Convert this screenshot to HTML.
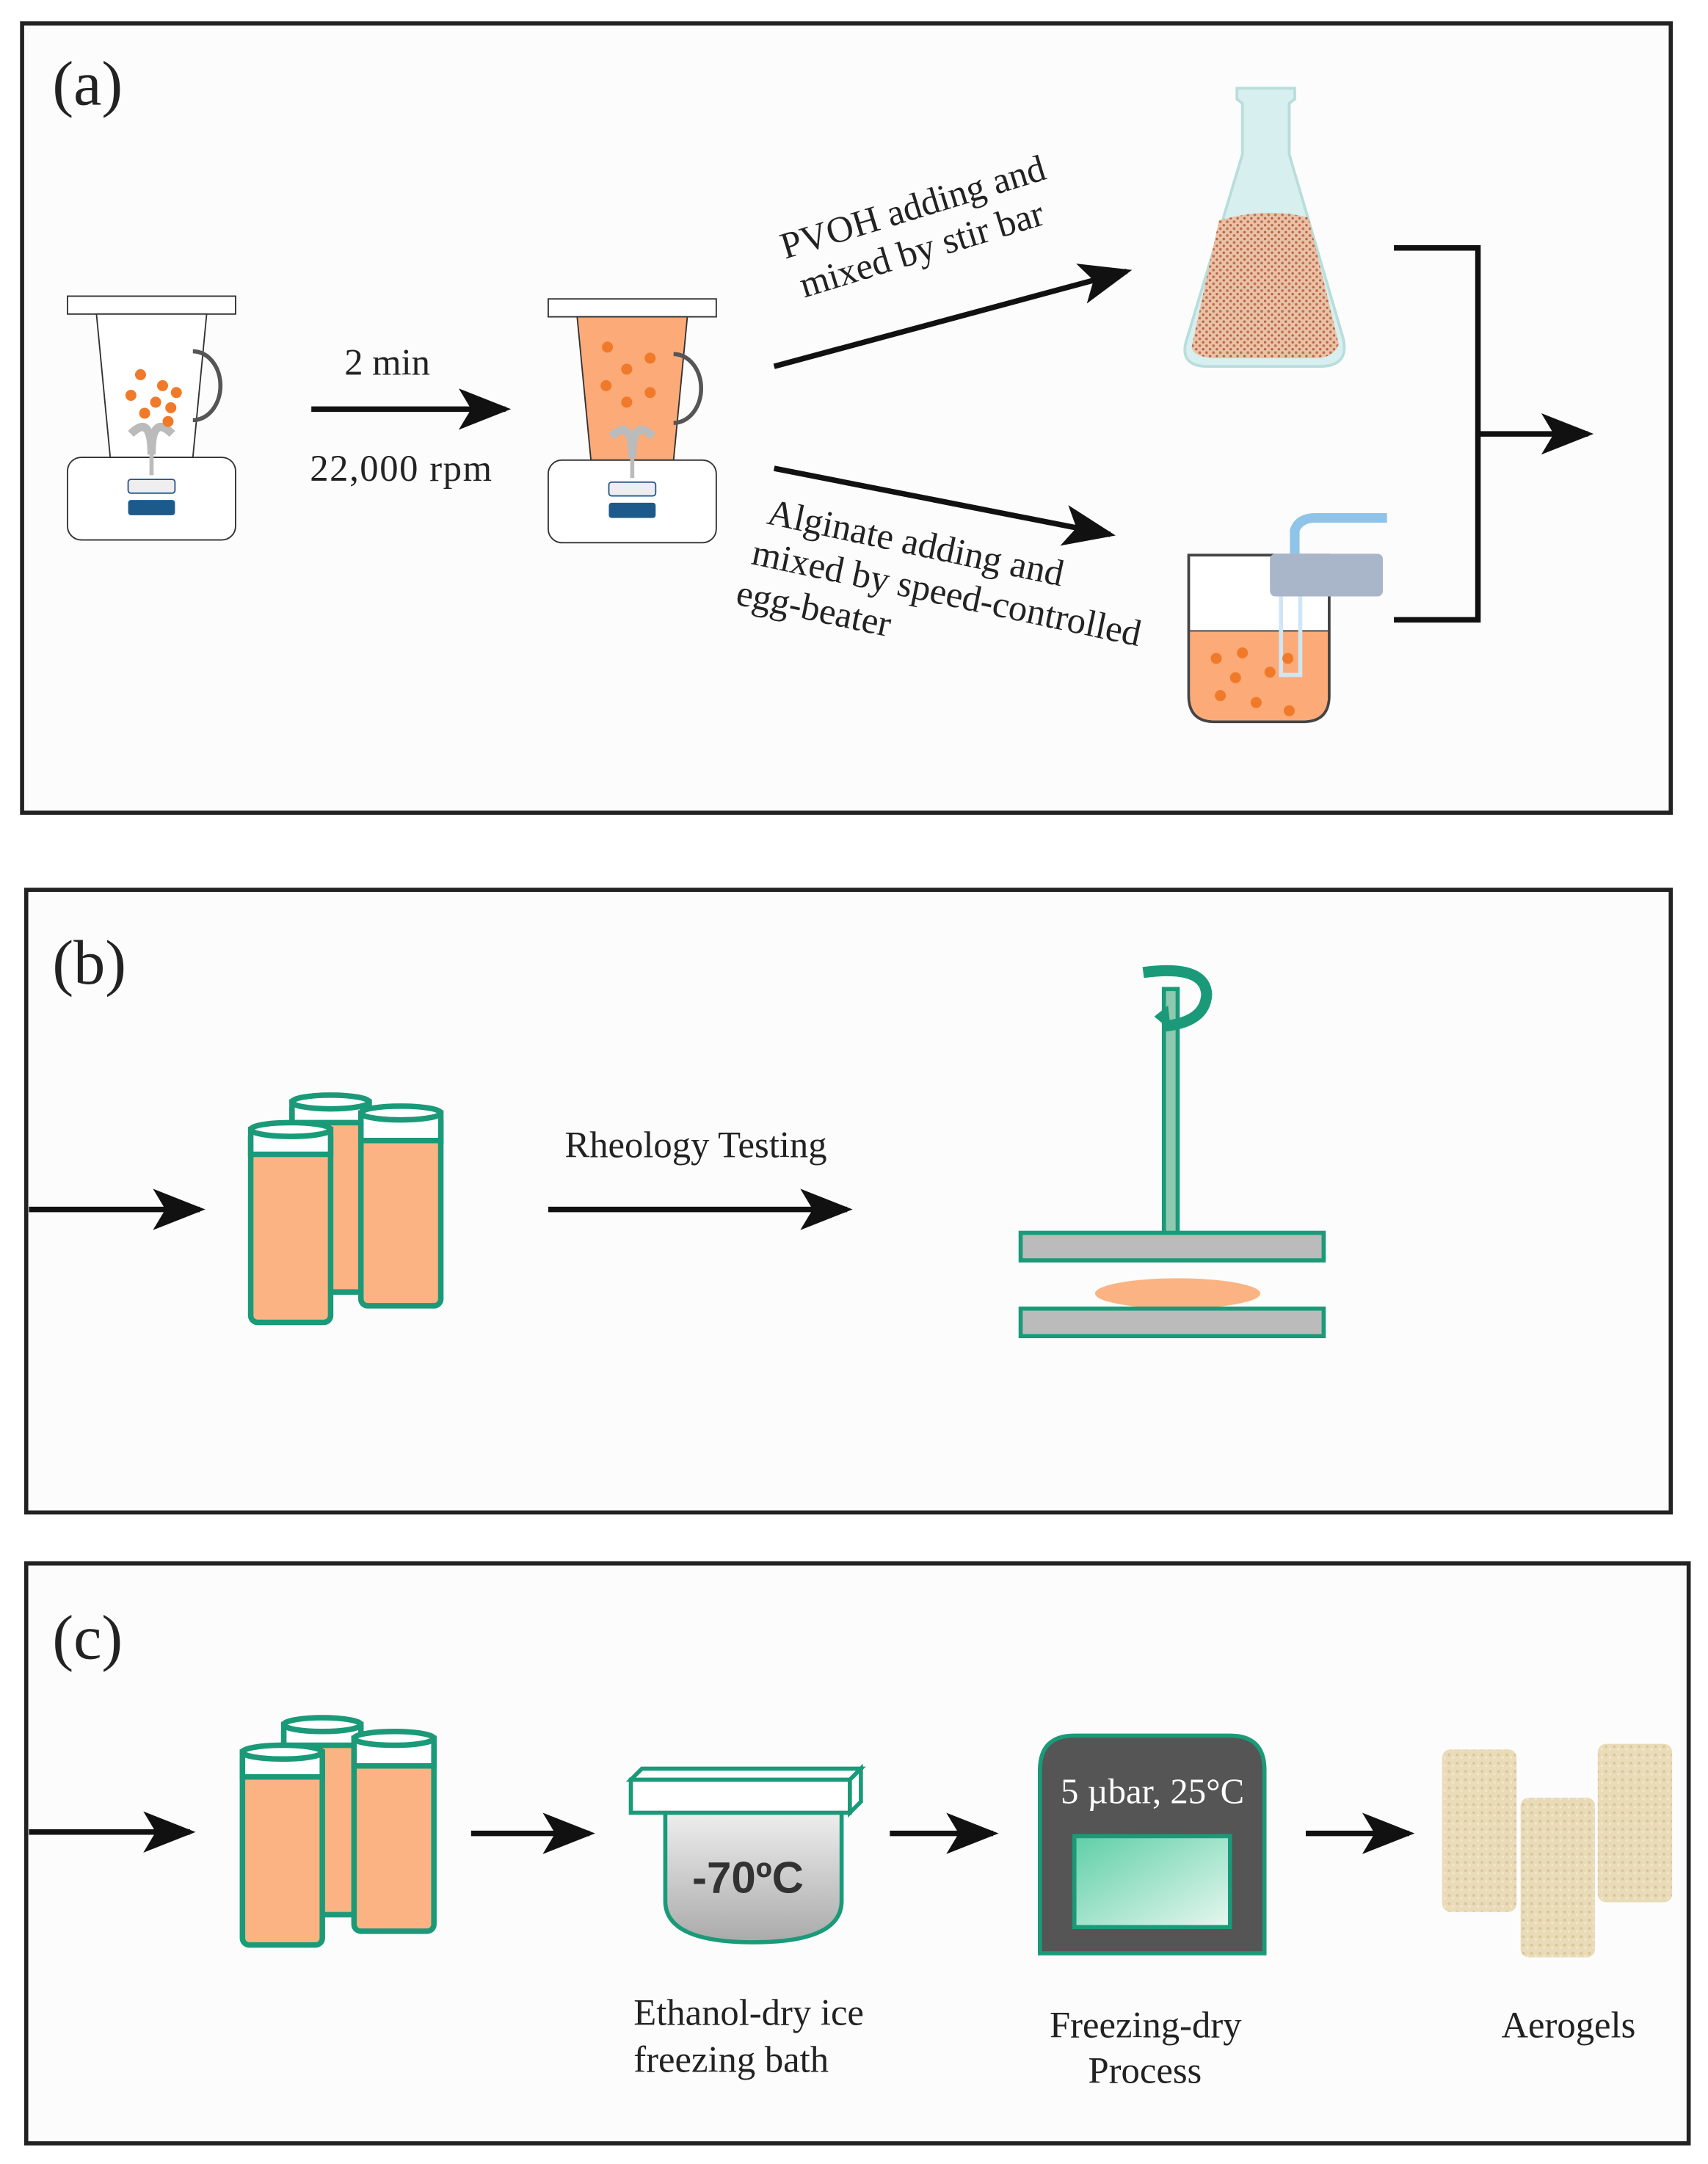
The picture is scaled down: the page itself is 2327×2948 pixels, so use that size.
<!DOCTYPE html>
<html><head><meta charset="utf-8"><style>html,body{margin:0;padding:0;background:#fff}svg{display:block}text{font-family:"Liberation Serif",serif;fill:#222}</style></head><body>
<svg width="2327" height="2948" viewBox="0 0 1240 1571" xmlns="http://www.w3.org/2000/svg">
<defs>
<marker id="ah" markerWidth="38" markerHeight="30" refX="34" refY="15" orient="auto" markerUnits="userSpaceOnUse" viewBox="0 0 38 30"><path d="M0,0 L38,15 L0,30 L9,15 Z" fill="#111"/></marker>
<linearGradient id="gr" x1="0" y1="0" x2="0" y2="1"><stop offset="0" stop-color="#f2f2f2"/><stop offset="1" stop-color="#aaa"/></linearGradient>
<linearGradient id="gn" x1="0" y1="0" x2="1" y2="1"><stop offset="0" stop-color="#5fcfa8"/><stop offset="1" stop-color="#e6f7f0"/></linearGradient>
<pattern id="sand" width="6" height="6" patternUnits="userSpaceOnUse"><rect width="6" height="6" fill="#e8d8b0"/><circle cx="2" cy="2" r="1" fill="#d4c090"/><circle cx="5" cy="4" r="0.8" fill="#f3e8cc"/></pattern>
<pattern id="fl" width="5" height="5" patternUnits="userSpaceOnUse"><rect width="5" height="5" fill="#e9c2a8"/><circle cx="1" cy="1" r="1" fill="#c0704a"/><circle cx="3.5" cy="3.5" r="0.9" fill="#b86040"/></pattern>
</defs>
<rect width="1240" height="1571" fill="#fff"/>
<rect x="16" y="17" width="1197" height="573" fill="#fcfcfc" stroke="#222" stroke-width="3"/>
<rect x="19" y="646" width="1194" height="452" fill="#fcfcfc" stroke="#222" stroke-width="3"/>
<rect x="19" y="1135" width="1207" height="421" fill="#fcfcfc" stroke="#222" stroke-width="3"/>
<text x="38" y="76" font-size="46">(a)</text>
<text x="38" y="714" font-size="46">(b)</text>
<text x="38" y="1204" font-size="46">(c)</text>

<g>
<rect x="49" y="215" width="122" height="13" fill="#fff" stroke="#333"/>
<path d="M70,228 L150,228 L140,332 L80,332 Z" fill="#fff" stroke="#333"/>
<path d="M140,255 a20,25 0 0 1 0,50" fill="none" stroke="#555" stroke-width="3"/>
<rect x="49" y="332" width="122" height="60" rx="10" fill="#fff" stroke="#333"/>
<path d="M95,315 Q110,300 110,330 Q110,300 125,315" fill="none" stroke="#bbb" stroke-width="6"/>
<line x1="110" y1="320" x2="110" y2="345" stroke="#bbb" stroke-width="3"/>
<rect x="93" y="348" width="34" height="10" rx="2" fill="#eee" stroke="#2a5a8a"/>
<rect x="93" y="363" width="34" height="11" rx="2" fill="#1d5a8c"/>
<g fill="#f07a2a"><circle cx="102" cy="272" r="4"/><circle cx="118" cy="280" r="4"/><circle cx="95" cy="287" r="4"/><circle cx="113" cy="292" r="4"/><circle cx="124" cy="296" r="4"/><circle cx="105" cy="300" r="4"/><circle cx="128" cy="285" r="4"/><circle cx="122" cy="306" r="4"/></g>
</g>
<line x1="226" y1="297" x2="367" y2="297" stroke="#111" stroke-width="4" marker-end="url(#ah)"/>
<text x="250" y="272" font-size="27">2 min</text>
<text x="225" y="349" font-size="27" textLength="132">22,000 rpm</text>
<g>
<rect x="398" y="217" width="122" height="13" fill="#fff" stroke="#333"/>
<path d="M419,230 L499,230 L489,334 L429,334 Z" fill="#fbaa78" stroke="#333"/>
<path d="M489,257 a20,25 0 0 1 0,50" fill="none" stroke="#555" stroke-width="3"/>
<rect x="398" y="334" width="122" height="60" rx="10" fill="#fff" stroke="#333"/>
<path d="M444,317 Q459,302 459,332 Q459,302 474,317" fill="none" stroke="#bbb" stroke-width="6"/>
<line x1="459" y1="322" x2="459" y2="347" stroke="#bbb" stroke-width="3"/>
<rect x="442" y="350" width="34" height="10" rx="2" fill="#eee" stroke="#2a5a8a"/>
<rect x="442" y="365" width="34" height="11" rx="2" fill="#1d5a8c"/>
<g fill="#f07a2a"><circle cx="441" cy="252" r="4"/><circle cx="472" cy="260" r="4"/><circle cx="455" cy="268" r="4"/><circle cx="440" cy="280" r="4"/><circle cx="472" cy="285" r="4"/><circle cx="455" cy="292" r="4"/></g>
</g>
<line x1="562" y1="266" x2="818" y2="197" stroke="#111" stroke-width="4" marker-end="url(#ah)"/>
<line x1="562" y1="340" x2="806" y2="388" stroke="#111" stroke-width="4" marker-end="url(#ah)"/>
<g transform="rotate(-17 570 188)"><text x="570" y="188" font-size="27">PVOH adding and</text><text x="575" y="219" font-size="27">mixed by stir bar</text></g>
<g transform="rotate(12 556 380)"><text x="556" y="380" font-size="27">Alginate adding and</text><text x="551" y="411" font-size="27">mixed by speed-controlled</text><text x="546" y="442" font-size="27">egg-beater</text></g>
<path d="M898,64 L940,64 L940,72 L936,75 L936,112 L975,245 Q980,265 960,266 L875,266 Q855,265 862,245 L902,112 L902,75 L898,72 Z" fill="#d7efee" stroke="#b8dedb" stroke-width="2"/>
<path d="M885,160 Q920,150 950,158 L972,250 Q968,260 955,260 L880,260 Q862,258 866,248 Z" fill="url(#fl)"/>
<path d="M863,403 L965,403 L965,505 Q965,524 946,524 L882,524 Q863,524 863,505 Z" fill="#fff" stroke="#444" stroke-width="2"/>
<path d="M864,458 L964,458 L964,505 Q964,523 946,523 L882,523 Q864,523 864,505 Z" fill="#fbaa78"/>
<line x1="863" y1="458" x2="965" y2="458" stroke="#444"/>
<path d="M940,405 L940,385 Q943,376 955,376 L1007,376" fill="none" stroke="#8fc4e8" stroke-width="7"/>
<rect x="922" y="402" width="82" height="31" rx="4" fill="#a9b5c9"/>
<path d="M930,433 L930,490 L944,490 L944,433" fill="none" stroke="#cfe6f5" stroke-width="3"/>
<g fill="#f07a2a"><circle cx="883" cy="478" r="4"/><circle cx="902" cy="474" r="4"/><circle cx="922" cy="488" r="4"/><circle cx="897" cy="492" r="4"/><circle cx="886" cy="505" r="4"/><circle cx="912" cy="510" r="4"/><circle cx="936" cy="516" r="4"/><circle cx="935" cy="478" r="4"/></g>
<polyline points="1012,180 1073,180 1073,450 1012,450" fill="none" stroke="#111" stroke-width="4"/>
<line x1="1073" y1="315" x2="1153" y2="315" stroke="#111" stroke-width="4" marker-end="url(#ah)"/>

<line x1="21" y1="878" x2="145" y2="878" stroke="#111" stroke-width="4" marker-end="url(#ah)"/>
<g stroke="#1a9a78" stroke-width="4">
<rect x="212" y="800" width="56" height="138" rx="5" fill="#fbb383"/>
<rect x="212" y="800" width="56" height="15" fill="#fff"/>
<ellipse cx="240" cy="800" rx="28" ry="5" fill="#fff"/>
<rect x="182" y="820" width="58" height="140" rx="5" fill="#fbb383"/>
<rect x="182" y="820" width="58" height="18" fill="#fff"/>
<ellipse cx="211" cy="820" rx="29" ry="5" fill="#fff"/>
<rect x="262" y="808" width="58" height="140" rx="5" fill="#fbb383"/>
<rect x="262" y="808" width="58" height="20" fill="#fff"/>
<ellipse cx="291" cy="808" rx="29" ry="5" fill="#fff"/>
</g>
<text x="410" y="840" font-size="27">Rheology Testing</text>
<line x1="398" y1="878" x2="615" y2="878" stroke="#111" stroke-width="4" marker-end="url(#ah)"/>
<rect x="845" y="718" width="10" height="178" fill="#8fc9b0" stroke="#1a9a78" stroke-width="3"/>
<path d="M830,706 Q875,700 876,722 Q875,742 845,745" fill="none" stroke="#1a9a78" stroke-width="8"/>
<path d="M838,738 L848,730 L850,748 Z" fill="#1a9a78"/>
<rect x="741" y="895" width="220" height="20" fill="#bbb" stroke="#1a9a78" stroke-width="3"/>
<ellipse cx="855" cy="939" rx="60" ry="11" fill="#fbb383"/>
<rect x="741" y="950" width="220" height="20" fill="#bbb" stroke="#1a9a78" stroke-width="3"/>

<line x1="21" y1="1330" x2="138" y2="1330" stroke="#111" stroke-width="4" marker-end="url(#ah)"/>
<g stroke="#1a9a78" stroke-width="4">
<rect x="206" y="1252" width="56" height="138" rx="5" fill="#fbb383"/>
<rect x="206" y="1252" width="56" height="15" fill="#fff"/>
<ellipse cx="234" cy="1252" rx="28" ry="5" fill="#fff"/>
<rect x="176" y="1272" width="58" height="140" rx="5" fill="#fbb383"/>
<rect x="176" y="1272" width="58" height="18" fill="#fff"/>
<ellipse cx="205" cy="1272" rx="29" ry="5" fill="#fff"/>
<rect x="257" y="1262" width="58" height="140" rx="5" fill="#fbb383"/>
<rect x="257" y="1262" width="58" height="20" fill="#fff"/>
<ellipse cx="286" cy="1262" rx="29" ry="5" fill="#fff"/>
</g>
<line x1="342" y1="1331" x2="428" y2="1331" stroke="#111" stroke-width="4" marker-end="url(#ah)"/>
<path d="M483,1310 L611,1310 L611,1380 Q611,1410 547,1410 Q483,1410 483,1380 Z" fill="url(#gr)" stroke="#1a9a78" stroke-width="3"/>
<rect x="458" y="1292" width="159" height="24" fill="#fff" stroke="#1a9a78" stroke-width="3"/>
<path d="M458,1292 L466,1284 L625,1284 L617,1292 Z" fill="#fff" stroke="#1a9a78" stroke-width="3"/>
<path d="M617,1292 L625,1284 L625,1308 L617,1316 Z" fill="#fff" stroke="#1a9a78" stroke-width="3"/>
<text x="543" y="1374" font-size="32" text-anchor="middle" style="font-family:'Liberation Sans',sans-serif;font-weight:bold;fill:#333">-70ºC</text>
<text x="460" y="1470" font-size="27">Ethanol-dry ice</text>
<text x="460" y="1504" font-size="27">freezing bath</text>
<line x1="646" y1="1331" x2="721" y2="1331" stroke="#111" stroke-width="4" marker-end="url(#ah)"/>
<path d="M755,1418 L755,1285 Q755,1260 780,1260 L893,1260 Q918,1260 918,1285 L918,1418 Z" fill="#555" stroke="#1a9a78" stroke-width="3"/>
<text x="770" y="1309" font-size="26" style="fill:#fff">5 µbar, 25°C</text>
<rect x="780" y="1333" width="113" height="66" fill="url(#gn)" stroke="#1a9a78" stroke-width="3"/>
<text x="762" y="1479" font-size="27">Freezing-dry</text>
<text x="790" y="1512" font-size="27">Process</text>
<line x1="948" y1="1331" x2="1023" y2="1331" stroke="#111" stroke-width="4" marker-end="url(#ah)"/>
<g fill="url(#sand)" opacity="0.9">
<rect x="1047" y="1270" width="54" height="118" rx="6"/>
<rect x="1160" y="1266" width="54" height="115" rx="6"/>
<rect x="1104" y="1305" width="54" height="116" rx="6"/>
</g>
<text x="1090" y="1479" font-size="27">Aerogels</text>
</svg>
</body></html>
